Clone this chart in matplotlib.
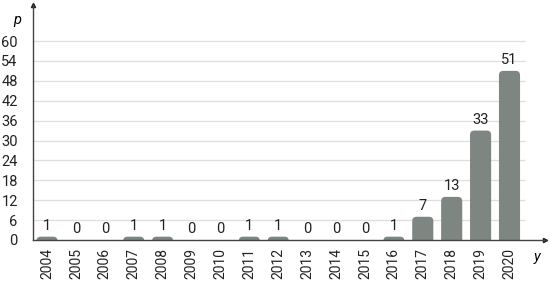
import matplotlib
matplotlib.use("Agg")
import matplotlib.pyplot as plt
from matplotlib.patches import FancyBboxPatch
import numpy as np

years = ["2004", "2005", "2006", "2007", "2008", "2009", "2010", "2011", "2012",
         "2013", "2014", "2015", "2016", "2017", "2018", "2019", "2020"]
papers = [1, 0, 0, 1, 1, 0, 0, 1, 1, 0, 0, 0, 1, 7, 13, 33, 51]
yticks = [0, 6, 12, 18, 24, 30, 36, 42, 48, 54, 60]

plt.rcParams["font.family"] = ["Roboto", "DejaVu Sans"]

fig = plt.figure(figsize=(5.5, 2.81), dpi=100)
ax = fig.add_axes([0.06, 0.146, 0.931, 0.836])

x = np.arange(len(years))
ax.set_xlim(-0.484, 17.23)
ax.set_ylim(0, 70.85)

# pixels per data unit, for the rounded corners
px_x = 0.931 * 550 / (17.23 + 0.484)
px_y = 0.836 * 281 / 70.85
aspect = px_x / px_y

bar_w = 0.73
for xi, v in zip(x, papers):
    if v > 0:
        box = FancyBboxPatch((xi - bar_w / 2, -3), bar_w, v + 3,
                             boxstyle="round,pad=0,rounding_size=0.15",
                             mutation_aspect=aspect,
                             facecolor="#7e8682", edgecolor="none", zorder=2)
        ax.add_patch(box)
    ax.text(xi, v + 1.2, str(v), ha="center", va="bottom", fontsize=10.5, color="#222222")

ax.hlines(yticks[1:], -0.484, 16.55, color="#dedede", linewidth=0.9, zorder=0)

ax.set_xticks(x)
ax.set_xticklabels(years, rotation=90, fontsize=10)
ax.set_yticks(yticks)
ax.set_yticklabels([str(t) for t in yticks], fontsize=10.5)
ax.tick_params(axis="both", length=0, colors="#222222")
ax.tick_params(axis="y", pad=11)
ax.tick_params(axis="x", pad=6)

for s in ["top", "right"]:
    ax.spines[s].set_visible(False)
for s in ["left", "bottom"]:
    ax.spines[s].set_color("#444444")
    ax.spines[s].set_linewidth(1.0)

ax.plot(1, 0, ">", transform=ax.transAxes, color="#222222", markersize=3, clip_on=False)
ax.plot(0, 1, "^", transform=ax.transAxes, color="#222222", markersize=3, clip_on=False)

fig.text(17 / 550, 1 - 20 / 281, "p", style="italic", fontsize=10.5, ha="center", va="center")
fig.text(537 / 550, 1 - 257 / 281, "y", style="italic", fontsize=10.5, ha="center", va="center")

fig.savefig("out.png", dpi=100)
